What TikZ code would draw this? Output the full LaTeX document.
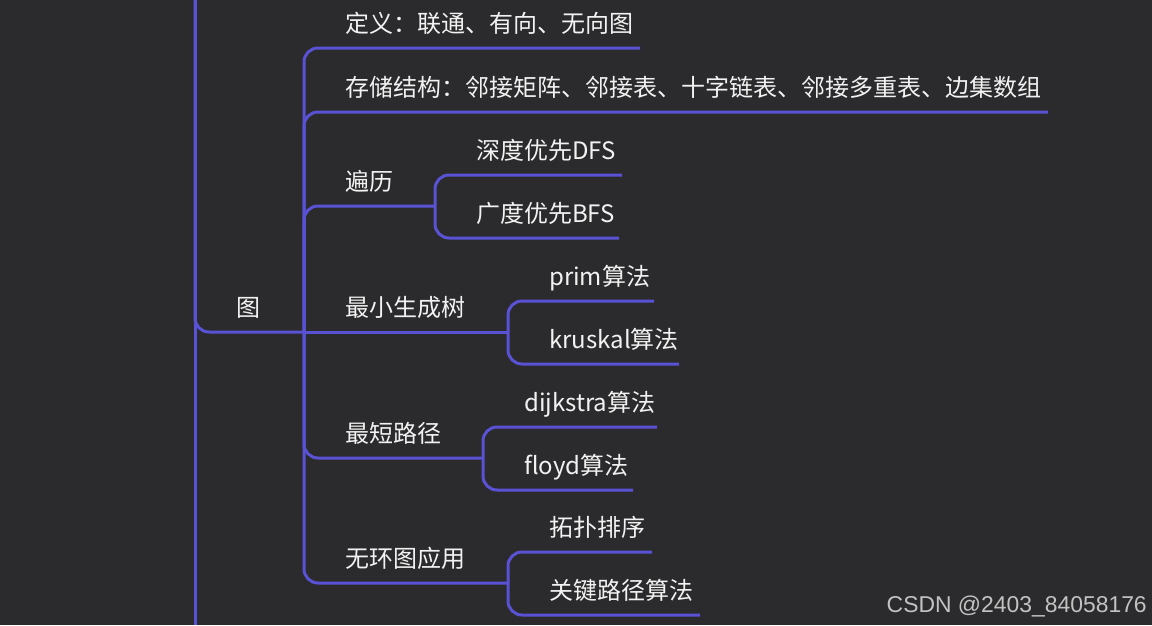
\documentclass[tikz,border=0pt]{standalone}
\usepackage{fontspec}
\setmainfont{Noto Sans CJK SC}
\newfontfamily\wmfont{Liberation Sans}
\usetikzlibrary{positioning}
\definecolor{mmBg}{HTML}{2B2B2D}
\definecolor{mmLine}{HTML}{5A52D4}
\definecolor{mmText}{HTML}{F2F2F2}
\definecolor{mmGrey}{HTML}{C2C2C2}
\tikzset{
  branch/.style = {mmLine, line width=3pt, rounded corners=14pt},
  topic/.style  = {anchor=base west, inner sep=0pt, text=mmText,
                   font=\fontsize{24}{29}\selectfont},
  wmark/.style  = {anchor=base east, inner sep=0pt, text=mmGrey,
                   font=\wmfont\fontsize{22.9}{26}\selectfont},
}

\begin{document}
\begin{tikzpicture}[x=1pt, y=-1pt]
  \fill[mmBg] (0,0) rectangle (1152,625);
  \useasboundingbox (0,0) rectangle (1152,625);

  % hubs and underline ends
  \coordinate (trunkTop) at (195,0);
  \coordinate (trunkBot) at (195,625);
  \coordinate (hub) at (304,332);
  \coordinate (travHub) at (435,206);
  \coordinate (mstHub) at (508,332);
  \coordinate (spHub) at (483,458);
  \coordinate (dagHub) at (508,583);
  \coordinate (defEnd) at (640,48);
  \coordinate (storeEnd) at (1048,112);
  \coordinate (dfsEnd) at (622,175);
  \coordinate (bfsEnd) at (619,238);
  \coordinate (primEnd) at (654,301);
  \coordinate (krusEnd) at (679,364);
  \coordinate (dijEnd) at (657,427);
  \coordinate (floydEnd) at (633,490);
  \coordinate (topoEnd) at (652,552);
  \coordinate (critEnd) at (700,615);

  \draw[branch] (trunkTop) -- (trunkBot);
  \draw[branch] (trunkTop) |- (hub);

  \foreach \e in {defEnd, storeEnd, travHub, spHub, dagHub}
    \draw[branch] (hub) |- (\e);
  \draw[branch] (hub) -- (mstHub);

  \draw[branch] (travHub) |- (dfsEnd);
  \draw[branch] (travHub) |- (bfsEnd);
  \draw[branch] (mstHub) |- (primEnd);
  \draw[branch] (mstHub) |- (krusEnd);
  \draw[branch] (spHub) |- (dijEnd);
  \draw[branch] (spHub) |- (floydEnd);
  \draw[branch] (dagHub) |- (topoEnd);
  \draw[branch] (dagHub) |- (critEnd);

  \node[topic] (root) at (236,316) {图};
  \node[topic] (def) at (345,32) {定义：联通、有向、无向图};
  \node[topic] (store) at (345,96) {存储结构：邻接矩阵、邻接表、十字链表、邻接多重表、边集数组};
  \node[topic] (trav) at (345,190) {遍历};
  \node[topic] (dfs) at (476,159) {深度优先DFS};
  \node[topic] (bfs) at (476,222) {广度优先BFS};
  \node[topic] (mst) at (345,316) {最小生成树};
  \node[topic] (prim) at (549,285) {prim算法};
  \node[topic] (krus) at (549,348) {kruskal算法};
  \node[topic] (sp) at (345,442) {最短路径};
  \node[topic] (dij) at (524,411) {dijkstra算法};
  \node[topic] (floyd) at (524,474) {floyd算法};
  \node[topic] (dag) at (345,567) {无环图应用};
  \node[topic] (topo) at (549,536) {拓扑排序};
  \node[topic] (crit) at (549,599) {关键路径算法};

  \node[wmark] (csdn) at (1147,612) {CSDN @2403\_84058176};
\end{tikzpicture}
\end{document}
